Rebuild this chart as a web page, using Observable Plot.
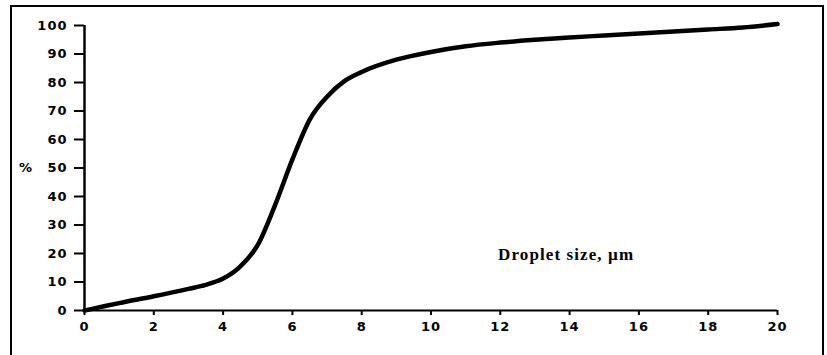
<!DOCTYPE html>
<html>
<head>
<meta charset="utf-8">
<script src="https://cdn.jsdelivr.net/npm/d3@7"></script>
<script src="https://cdn.jsdelivr.net/npm/@observablehq/plot@0.6"></script>
<style>
  body { margin: 0; background: #fff; }
  #chart { position: relative; width: 827px; height: 355px; }
  #border {
    position: absolute; left: 10px; top: 5px; width: 814px; height: 352px;
    border: 2px solid #000; border-bottom: none; box-sizing: border-box;
    pointer-events: none;
  }
  #chart svg { position: absolute; left: 0; top: 0; }
  #chart svg g[aria-label="x-axis tick label"] text,
  #chart svg g[aria-label="y-axis tick label"] text { letter-spacing: 1px; }
  #chart svg .axis-title text { letter-spacing: 1.1px; }
</style>
</head>
<body>
<div id="chart"><div id="border"></div></div>
<script>
// Cumulative droplet size distribution
const dropletSize = [0, 0.5, 1, 2, 3, 3.5, 4, 4.5, 5, 5.5, 6, 6.5, 7, 7.5, 8, 9, 10, 11, 12, 13, 14, 15, 16, 17, 18, 19, 20];
const cumulativePct = [0, 1.3, 2.6, 5, 7.6, 9, 11.2, 15.5, 23, 37, 53, 67, 75, 80.5, 83.7, 88, 90.7, 92.7, 94, 95, 95.8, 96.5, 97.2, 97.9, 98.6, 99.3, 100.5];

const xTicks = [0, 2, 4, 6, 8, 10, 12, 14, 16, 18, 20];
const yTicks = [0, 10, 20, 30, 40, 50, 60, 70, 80, 90, 100];

const xTitle = "Droplet size, \u00b5m";
const yTitle = "%";

const rows = dropletSize.map((s, i) => ({size: s, pct: cumulativePct[i]}));

const chart = Plot.plot({
  width: 827,
  height: 355,
  marginLeft: 84,
  marginRight: 50,
  marginTop: 25,
  marginBottom: 45,
  style: {fontFamily: "DejaVu Sans", fontSize: "13px", fontWeight: "bold", background: "transparent", color: "#000"},
  x: {domain: [0, 20]},
  y: {domain: [0, 100]},
  marks: [
    Plot.axisX({ticks: xTicks, tickSize: 5, tickPadding: 6, strokeWidth: 2, label: null, fontSize: 13, fontWeight: "bold"}),
    Plot.axisY({ticks: yTicks, tickSize: 10, tickPadding: 7, strokeWidth: 2, label: null, fontSize: 13, fontWeight: "bold"}),
    Plot.ruleX([0], {strokeWidth: 2.5}),
    Plot.ruleY([0], {strokeWidth: 2}),
    Plot.line(rows, {x: "size", y: "pct", curve: "monotone-x", stroke: "#000", strokeWidth: 4.5}),
    Plot.text([xTitle], {x: 13.9, y: 19.6, text: d => d, fontFamily: "Liberation Serif", fontSize: 17, fontWeight: "bold", textAnchor: "middle", className: "axis-title"}),
    Plot.text([yTitle], {x: 0, y: 50, text: d => d, dx: -59, fontSize: 13, fontWeight: "bold", textAnchor: "middle", clip: false})
  ]
});
document.getElementById("chart").prepend(chart);
</script>
</body>
</html>
